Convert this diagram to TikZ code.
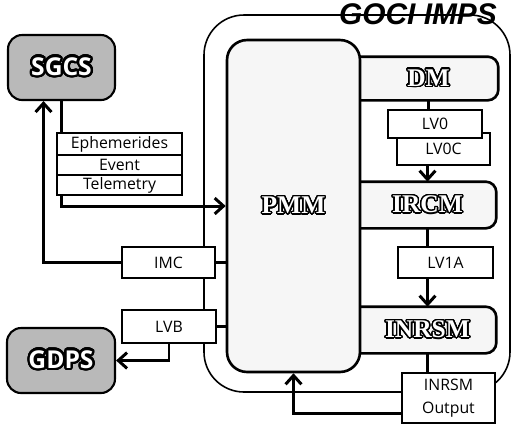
\documentclass[tikz,border=0pt]{standalone}
\usepackage{fontspec}
\setmainfont{Open Sans}
\newfontfamily\serifbf{Liberation Serif}
\newfontfamily\titlefont{Liberation Sans}
\usepackage{contour}
\contournumber{32}
\usetikzlibrary{arrows.meta,calc}

% outlined labels
\newcommand{\modlabel}[1]{{\contourlength{0.8pt}\serifbf\bfseries\fontsize{14.5}{15}\selectfont\textcolor{white}{\contour{black}{#1}}}}
\newcommand{\grlabel}[1]{{\contourlength{1.3pt}\bfseries\fontsize{14}{15}\selectfont\textcolor{white}{\contour{black}{#1}}}}

\begin{document}
\begin{tikzpicture}[x=0.02cm,y=-0.02cm,
    >={Straight Barb[length=5pt,width=9pt]},
    lbl/.style={draw, fill=white, line width=0.6pt, inner sep=0pt, font=\fontsize{9}{13}\selectfont},
    ground/.style={draw, line width=1.2pt, fill=gray!55, rounded corners=8pt, inner sep=0pt},
    module/.style={line width=1.5pt, fill=gray!7, inner sep=0pt},
    link/.style={line width=1.7pt}]
    \useasboundingbox (0,0) rectangle (514,424);

    % --- 1. IMPS frame ---
    \draw[line width=0.9pt, rounded corners=0.8cm] (204,15) rectangle (510,392);
    \node[font=\titlefont\bfseries\itshape\fontsize{17}{18}\selectfont] (title) at (418,14) {GOCI IMPS};

    % --- 2. modules ---
    \node[module, minimum width=2.74cm, minimum height=0.82cm] (dm) at (428.5,78.5) {\modlabel{DM}};
    \node[module, minimum width=2.70cm, minimum height=0.88cm] (ircm) at (427.5,205) {\modlabel{IRCM}};
    \node[module, minimum width=2.70cm, minimum height=0.88cm] (inrsm) at (427.5,330) {\modlabel{INRSM}};
    \foreach \m in {dm,ircm,inrsm}
        \draw[line width=1.5pt, rounded corners=6pt] (\m.north west) -- (\m.north east) -- (\m.south east) -- (\m.south west);
    \node[module, draw, rounded corners=0.4cm, minimum width=2.66cm, minimum height=6.64cm] (pmm) at (293.5,206) {\modlabel{PMM}};

    % --- 3. ground systems ---
    \node[ground, minimum width=2.14cm, minimum height=1.30cm] (sgcs) at (61.5,67.5) {\grlabel{SGCS}};
    \node[ground, minimum width=2.16cm, minimum height=1.30cm] (gdps) at (61,360.5) {\grlabel{GDPS}};

    % --- 4. data boxes ---
    \node[lbl, minimum width=2.50cm, minimum height=0.44cm] (eph) at (119.5,144) {Ephemerides};
    \node[lbl, minimum width=2.50cm, minimum height=0.40cm] (event) at (119.5,165) {Event};
    \node[lbl, minimum width=2.50cm, minimum height=0.40cm] (tele) at (119.5,185) {Telemetry};
    \node[lbl, minimum width=1.86cm, minimum height=0.62cm] (imc) at (168.5,262.5) {IMC};
    \node[lbl, minimum width=1.88cm, minimum height=0.66cm] (lvb) at (169,326.5) {LVB};
    \node[lbl, minimum width=1.86cm, minimum height=0.64cm] (lv0c) at (443.5,149) {LV0C};
    \node[lbl, minimum width=1.88cm, minimum height=0.56cm] (lv0) at (435,124) {LV0};
    \node[lbl, minimum width=1.90cm, minimum height=0.62cm] (lv1a) at (445.5,262.5) {LV1A};
    \node[lbl, minimum width=1.86cm, minimum height=1.00cm, align=center] (out) at (448.5,398) {INRSM\\Output};

    % --- 5. connectors ---
    \draw[link] (sgcs.south) -- (sgcs.south |- eph.north);
    \draw[link,->] (tele.south -| sgcs.south) |- (pmm.west);
    \draw[link,->] (imc.west) -| ($(sgcs.south)+(-18,0)$);
    \draw[link] (imc.east) -- (imc.east -| pmm.west);
    \draw[link] (lvb.east) -- (lvb.east -| pmm.west);
    \draw[link,->] (lvb.south) |- (gdps.east);
    \draw[link] (dm.south) -- (dm.south |- lv0.north);
    \draw[link,->] (ircm.north |- lv0c.south) -- (ircm.north);
    \draw[link] (ircm.south) -- (ircm.south |- lv1a.north);
    \draw[link,->] (inrsm.north |- lv1a.south) -- (inrsm.north);
    \draw[link] (inrsm.south) -- (inrsm.south |- out.north);
    \draw[link,->] ($(out.west)+(0,15)$) -| (pmm.south);

\end{tikzpicture}
\end{document}
